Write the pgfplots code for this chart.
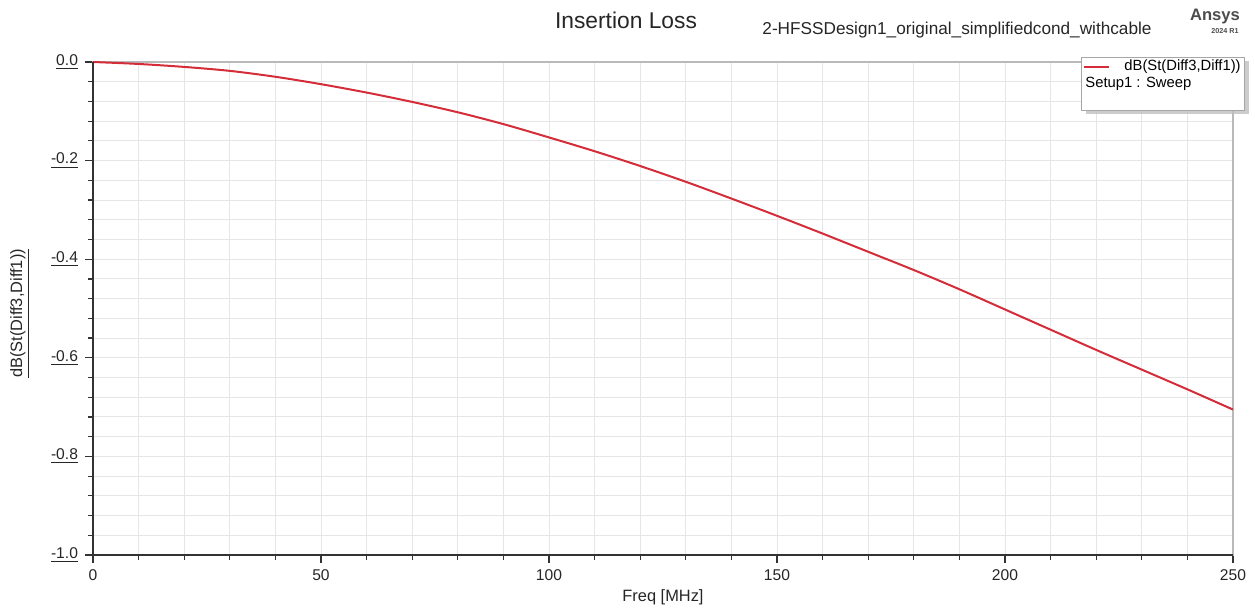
\documentclass[border=0pt]{standalone}
\usepackage{pgfplots}
\pgfplotsset{compat=1.18}
\usepackage{fontspec}
\setmainfont{Liberation Sans}
\usetikzlibrary{shadows}
\definecolor{curve}{RGB}{212,44,56}
\definecolor{gridc}{RGB}{230,230,230}
\begin{document}
\begin{tikzpicture}
\begin{axis}[
  scale only axis, width=570pt, height=246.5pt,
  xmin=0, xmax=250, ymin=-1, ymax=0,
  /pgf/number format/assume math mode=true,
  xtick={0,50,100,150,200,250},
  ytick={-1,-0.8,-0.6,-0.4,-0.2,0},
  xticklabel={\pgfmathprintnumber{\tick}},
  yticklabel={\underline{\pgfmathprintnumber[fixed,fixed zerofill,precision=1]{\tick}}},
  minor x tick num=4, minor y tick num=4,
  grid=both,
  major grid style={gridc, line width=0.5pt},
  minor grid style={gridc, line width=0.5pt},
  tick align=outside, tick pos=left,
  major tick length=4pt, minor tick length=2.5pt,
  tick style={black!80, line width=0.6pt},
  axis line style={gray!55, line width=0.6pt},
  ticklabel style={font=\fontsize{7.8}{9}\selectfont, text=black!85},
  xlabel={Freq [MHz]},
  ylabel={\underline{dB(St(Diff3,Diff1))}},
  every axis x label/.style={at={(rel axis cs:0.5,0)}, yshift=-21pt, anchor=center, font=\fontsize{8.2}{10}\selectfont, text=black!85},
  every axis y label/.style={at={(rel axis cs:0,0.49)}, xshift=-36.5pt, rotate=90, anchor=center, font=\fontsize{8.2}{10}\selectfont, text=black!85},
]
\addplot[curve, line width=1pt, smooth] coordinates {
(0,0) (10,-0.004) (20,-0.010) (30,-0.018) (40,-0.030) (50,-0.045)
(60,-0.062) (70,-0.081) (80,-0.102) (90,-0.126) (100,-0.153)
(110,-0.181) (120,-0.211) (130,-0.243) (140,-0.277) (150,-0.312)
(160,-0.348) (170,-0.385) (180,-0.422) (190,-0.461) (200,-0.502)
(210,-0.543) (220,-0.584) (230,-0.624) (240,-0.664) (250,-0.705)
};
\end{axis}
\draw[black!80, line width=0.6pt] (current axis.north west) -- (current axis.south west) -- (current axis.south east);
% titles
\node[font=\fontsize{11.4}{13}\selectfont, text=black!85] at ([xshift=266.5pt, yshift=21pt]current axis.north west) {Insertion Loss};
\node[font=\fontsize{8.6}{10}\selectfont, text=black!85] at ([xshift=432pt, yshift=16pt]current axis.north west) {2-HFSSDesign1\_original\_simplifiedcond\_withcable};
\node[font=\bfseries\fontsize{8.3}{9}\selectfont, text=black!70] at ([xshift=-9pt, yshift=22.5pt]current axis.north east) {Ansys};
\node[font=\bfseries\fontsize{3.6}{4}\selectfont, text=black!70] at ([xshift=-4pt, yshift=15.5pt]current axis.north east) {2024 R1};
% legend
\node[draw=gray!70, fill=white, line width=0.5pt, minimum width=81.5pt, minimum height=26.5pt, anchor=north east, inner sep=0pt,
  drop shadow={shadow xshift=2pt, shadow yshift=-2pt, fill=gray!50, opacity=0.8}] (leg) at ([xshift=6pt, yshift=2.5pt]current axis.north east) {};
\draw[curve, line width=0.8pt] ([xshift=1.5pt, yshift=-5pt]leg.north west) -- ([xshift=14pt, yshift=-5pt]leg.north west);
\node[anchor=west, inner sep=0pt, font=\fontsize{7.4}{9}\selectfont] at ([xshift=21.5pt, yshift=-5pt]leg.north west) {dB(St(Diff3,Diff1))};
\node[anchor=west, inner sep=0pt, font=\fontsize{7.4}{9}\selectfont] at ([xshift=2pt, yshift=-13.5pt]leg.north west) {Setup1 : Sweep};
\pgfresetboundingbox
\useasboundingbox ([shift={(-46.5pt,-27pt)}]current axis.south west) rectangle ([shift={(11pt,31pt)}]current axis.north east);
\end{tikzpicture}
\end{document}
